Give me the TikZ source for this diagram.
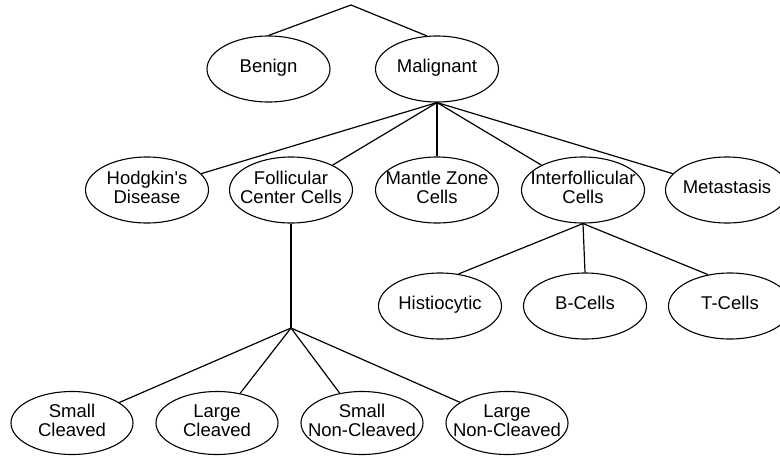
\documentclass[tikz,border=0pt]{standalone}
\usepackage{fontspec}
\setmainfont{Liberation Sans}[Ligatures=TeXOff]
\usetikzlibrary{shapes.geometric}
\newcommand{\lbl}[1]{\makebox[0pt][c]{\begin{tabular}{@{}c@{}}#1\end{tabular}}}
\tikzset{
  ell/.style={draw, ellipse, line width=1.1pt, inner sep=0pt,
    minimum width=123pt, minimum height=66pt,
    font=\fontsize{18.5}{18.5}\selectfont},
  ellb/.style={ell, minimum width=122pt, minimum height=63pt},
  conn/.style={line width=1.2pt}
}
\begin{document}
\begin{tikzpicture}[x=1pt, y=-1pt]
\useasboundingbox (0,0) rectangle (780,456);
\clip (0,0) rectangle (780,456);
\coordinate (apex) at (351,5);
\node[ell] (benign) at (268.5,69) {\lbl{Benign}};
\node[ell] (malig) at (437,69) {\lbl{Malignant}};
\node[ell] (hodg) at (147,190) {\lbl{Hodgkin's\\Disease}};
\node[ell] (foll) at (291,190) {\lbl{Follicular\\Center Cells}};
\node[ell] (mant) at (437,190) {\lbl{Mantle Zone\\Cells}};
\node[ell] (inter) at (583,190) {\lbl{Interfollicular\\Cells}};
\node[ell] (meta) at (727,190) {\lbl{Metastasis}};
\node[ell] (hist) at (440,306) {\lbl{Histiocytic}};
\node[ell] (bcell) at (585,306) {\lbl{B-Cells}};
\node[ell] (tcell) at (730,306) {\lbl{T-Cells}};
\coordinate (junc) at (291,328);
\node[ellb] (sc) at (72,423) {\lbl{Small\\Cleaved}};
\node[ellb] (lc) at (217,423) {\lbl{Large\\Cleaved}};
\node[ellb] (snc) at (362,423) {\lbl{Small\\Non-Cleaved}};
\node[ellb] (lnc) at (507,423) {\lbl{Large\\Non-Cleaved}};

\draw[conn] (benign.north) -- (apex) -- (malig.107);
\draw[conn] (malig.south) -- (hodg);
\draw[conn] (malig.south) -- (foll);
\draw[conn] (malig.south) -- (mant.north);
\draw[conn] (malig.south) -- (inter);
\draw[conn] (malig.south) -- (meta);
\draw[conn] (inter.south) -- (hist.60);
\draw[conn] (inter.south) -- (bcell.north);
\draw[conn] (inter.south) -- (tcell.125);
\draw[conn] (foll.south) -- (junc);
\draw[conn] (junc) -- (sc);
\draw[conn] (junc) -- (lc);
\draw[conn] (junc) -- (snc);
\draw[conn] (junc) -- (lnc);
\end{tikzpicture}
\end{document}
